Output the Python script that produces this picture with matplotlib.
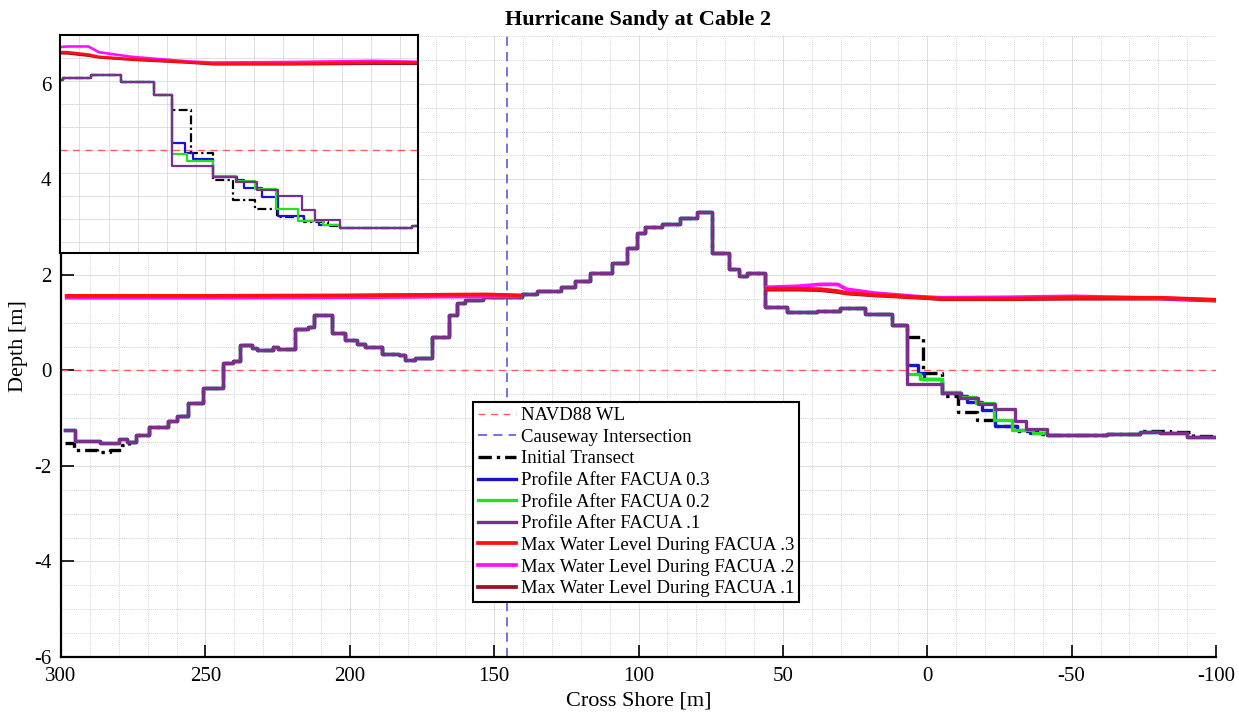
import numpy as np
import matplotlib.pyplot as plt
from matplotlib.ticker import MultipleLocator

plt.rcParams['font.family'] = ['Liberation Serif', 'DejaVu Serif']
plt.rcParams['axes.unicode_minus'] = False

# bed profile after FACUA .1 (step breakpoints: cross shore [m], depth [m])
prof01_x = [298.5, 295.0, 286.4, 280.0, 277.0, 273.9, 269.5, 263.0, 260.0, 256.0,
            250.7, 244.0, 240.6, 238.0, 233.8, 232.0, 226.5, 225.0, 218.9, 214.3,
            212.5, 206.2, 201.6, 197.5, 194.6, 188.9, 183.1, 180.8, 177.3, 171.5,
            165.8, 162.9, 160.0, 153.8, 140.4, 135.2, 127.0, 121.9, 116.7, 109.2,
            104.0, 100.5, 97.7, 91.9, 85.5, 79.8, 74.6, 68.8, 65.3, 62.4,
            56.1, 48.6, 38.2, 30.3, 21.5, 12.2, 7.0, -5.0, -11.5, -17.5,
            -23.5, -30.5, -34.2, -41.5, -62.2, -73.8, -80.7, -90.0, -99.5]
prof01_z = [-1.24, -1.47, -1.53, -1.43, -1.49, -1.36, -1.19, -1.05, -0.95, -0.69,
            -0.37, 0.15, 0.19, 0.54, 0.47, 0.43, 0.50, 0.45, 0.87, 0.91,
            1.15, 0.78, 0.64, 0.55, 0.50, 0.35, 0.32, 0.21, 0.25, 0.69,
            1.15, 1.42, 1.47, 1.53, 1.59, 1.67, 1.74, 1.87, 2.03, 2.24,
            2.57, 2.87, 3.00, 3.07, 3.18, 3.31, 2.46, 2.13, 1.97, 2.04,
            1.33, 1.22, 1.25, 1.30, 1.18, 0.95, -0.28, -0.47, -0.57, -0.70,
            -0.80, -1.05, -1.22, -1.36, -1.33, -1.28, -1.32, -1.40, -1.40]

# where the other profiles differ from the FACUA .1 profile
init_off_x = [298.5, 295.5, 287.5, 283.0, 279.0, 276.5]
init_off_z = [-1.52, -1.67, -1.71, -1.67, -1.57, -1.49]
init_near_x = [7.0, 1.5, -5.0, -10.8, -17.1, -23.3, -31.0, -38.0, -41.5]
init_near_z = [0.70, -0.05, -0.53, -0.87, -1.03, -1.17, -1.26, -1.33, -1.36]
init_far_x = [-73.8, -84.0, -92.0]
init_far_z = [-1.26, -1.29, -1.38]

prof03_near_x = [7.0, 3.3, 1.0, -5.0, -11.8, -13.8, -19.0, -23.5, -31.0, -35.5, -41.5]
prof03_near_z = [0.12, -0.05, -0.17, -0.47, -0.53, -0.67, -0.82, -1.16, -1.25, -1.31, -1.36]

prof02_near_x = [7.0, 2.5, -5.0, -11.4, -17.0, -23.0, -29.5, -36.5, -41.5]
prof02_near_z = [-0.08, -0.19, -0.46, -0.55, -0.68, -1.04, -1.25, -1.32, -1.36]

# max water levels (nan = dry section)
wl_x = [298.0, 250.0, 200.0, 153.0, 141.0, np.nan,
        55.5, 45.0, 37.0, 31.0, 28.0, 18.6, 2.4, -5.0, -28.0, -51.0, -81.0, -99.5]
wl03_z = [1.56, 1.56, 1.57, 1.59, 1.57, np.nan,
          1.71, 1.71, 1.70, 1.66, 1.62, 1.58, 1.53, 1.50, 1.50, 1.52, 1.52, 1.48]
wl02_z = [1.52, 1.52, 1.53, 1.55, 1.55, np.nan,
          1.74, 1.76, 1.80, 1.80, 1.70, 1.62, 1.54, 1.52, 1.53, 1.55, 1.51, 1.47]
wl01_z = [1.55, 1.55, 1.56, 1.58, 1.56, np.nan,
          1.69, 1.69, 1.68, 1.64, 1.61, 1.57, 1.52, 1.49, 1.49, 1.50, 1.50, 1.46]

navd_level = 0.0
causeway_x = 145.5

x_ticks = [300, 250, 200, 150, 100, 50, 0, -50, -100]
y_ticks = [-6, -4, -2, 0, 2, 4, 6]


def splice(base_x, base_z, seg_x, seg_z):
    bx = np.asarray(base_x)
    bz = np.asarray(base_z)
    hi, lo = max(seg_x), min(seg_x)
    x = np.concatenate([bx[bx > hi], seg_x, bx[bx < lo]])
    z = np.concatenate([bz[bx > hi], seg_z, bz[bx < lo]])
    return x, z


init_x, init_z = splice(prof01_x, prof01_z, init_off_x, init_off_z)
init_x, init_z = splice(init_x, init_z, init_near_x, init_near_z)
init_x, init_z = splice(init_x, init_z, init_far_x, init_far_z)
prof03_x, prof03_z = splice(prof01_x, prof01_z, prof03_near_x, prof03_near_z)
prof02_x, prof02_z = splice(prof01_x, prof01_z, prof02_near_x, prof02_near_z)


def draw_lines(ax, lw):
    ax.axhline(navd_level, color='#ff5a5a', lw=1.0, ls=(0, (5, 4)), label='NAVD88 WL')
    ax.axvline(causeway_x, color='#4a4af0', lw=1.1, ls=(0, (6, 4)), label='Causeway Intersection')
    ax.step(init_x, init_z, where='post', color='black', lw=lw, ls=(0, (4, 1.5, 1, 1.5)),
            label='Initial Transect')
    ax.step(prof03_x, prof03_z, where='post', color='#1414d2', lw=lw, label='Profile After FACUA 0.3')
    ax.step(prof02_x, prof02_z, where='post', color='#22e022', lw=lw, label='Profile After FACUA 0.2')
    ax.step(prof01_x, prof01_z, where='post', color='#7a2f8e', lw=lw, label='Profile After FACUA .1')
    ax.plot(wl_x, wl03_z, color='#ff1010', lw=lw + 0.3, zorder=2.3,
            label='Max Water Level During FACUA .3')
    ax.plot(wl_x, wl02_z, color='#ff10ff', lw=lw + 0.3, zorder=2.2,
            label='Max Water Level During FACUA .2')
    ax.plot(wl_x, wl01_z, color='#a01025', lw=lw + 0.3, zorder=2.1,
            label='Max Water Level During FACUA .1')


fig = plt.figure(figsize=(12.39, 7.17), dpi=100)
ax = fig.add_axes([61 / 1239, 60 / 717, 1155 / 1239, 621 / 717])
draw_lines(ax, 2.4)

ax.set_xlim(300, -100)
ax.set_ylim(-6, 7)
ax.set_xticks(x_ticks)
ax.set_yticks(y_ticks)
ax.xaxis.set_minor_locator(MultipleLocator(10))
ax.yaxis.set_minor_locator(MultipleLocator(0.5))
ax.tick_params(which='major', direction='in', length=9, width=1.2, labelsize=15, pad=7,
               top=False, right=False)
ax.tick_params(which='minor', length=0)
ax.grid(which='major', color='#dcdcdc', lw=0.7, ls='-')
ax.grid(which='minor', color='#c4c4c4', lw=0.6, ls=(0, (1, 1.5)))
ax.set_axisbelow(True)
for side in ['top', 'right']:
    ax.spines[side].set_visible(False)
for side in ['left', 'bottom']:
    ax.spines[side].set_linewidth(1.6)

ax.set_title('Hurricane Sandy at Cable 2', fontsize=16, fontweight='bold', pad=8)
ax.set_xlabel('Cross Shore [m]', fontsize=16, labelpad=4)
ax.set_ylabel('Depth [m]', fontsize=16, labelpad=4)

leg = ax.legend(loc='upper left', bbox_to_anchor=(0.357, 0.41), borderaxespad=0,
                fontsize=13.5, handlelength=2.0, handletextpad=0.3, labelspacing=0.24,
                borderpad=0.25, fancybox=False, framealpha=1, edgecolor='black')
leg.get_frame().set_linewidth(1.5)

# zoomed inset of the swash zone
ins = fig.add_axes([60 / 1239, 464 / 717, 358 / 1239, 218 / 717])
ins.set_facecolor('white')
draw_lines(ins, 1.6)
ins.set_xlim(39.2, -64)
ins.set_ylim(-1.8, 2.0)
ins.xaxis.set_major_locator(MultipleLocator(8.4))
ins.yaxis.set_major_locator(MultipleLocator(0.4))
ins.tick_params(length=0, labelbottom=False, labelleft=False)
ins.grid(color='#dadada', lw=0.6)
ins.set_axisbelow(True)
for sp in ins.spines.values():
    sp.set_linewidth(1.5)

fig.savefig('out.png', dpi=100)
